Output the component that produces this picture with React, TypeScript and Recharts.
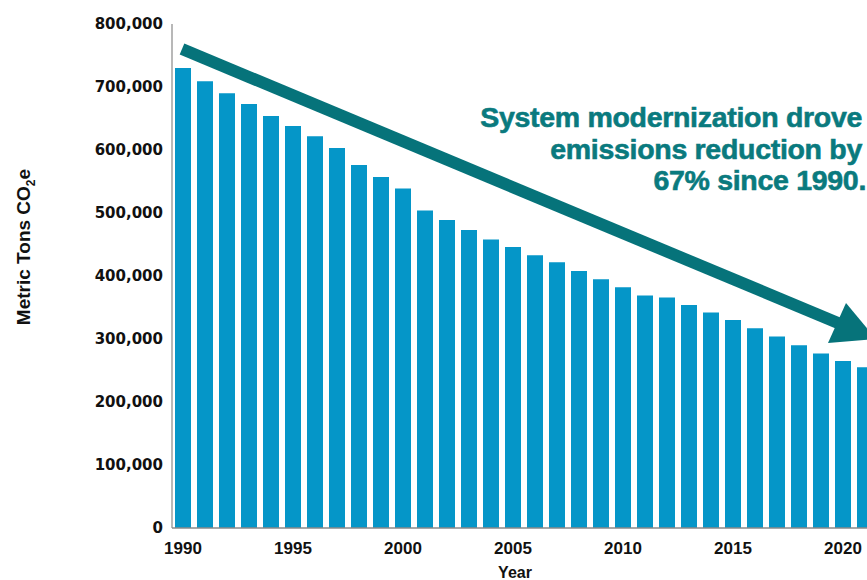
import React from 'react';
import { BarChart, Bar, XAxis, YAxis } from 'recharts';

const years = [
  1990, 1991, 1992, 1993, 1994, 1995, 1996, 1997, 1998, 1999,
  2000, 2001, 2002, 2003, 2004, 2005, 2006, 2007, 2008, 2009,
  2010, 2011, 2012, 2013, 2014, 2015, 2016, 2017, 2018, 2019,
  2020, 2021,
];
const emissions = [
  730000, 709000, 690000, 673000, 654000, 638000, 622000, 603000, 576000, 557000,
  539000, 504000, 489000, 473000, 458000, 446000, 433000, 422000, 408000, 395000,
  382000, 369000, 366000, 354000, 342000, 330000, 317000, 304000, 290000, 277000,
  265000, 255000,
];
const yTicks = [0, 100000, 200000, 300000, 400000, 500000, 600000, 700000, 800000];
const xTicks = [1990, 1995, 2000, 2005, 2010, 2015, 2020];
const titleLines = ['System modernization drove', 'emissions reduction by', '67% since 1990.'];

const data = years.map((y, i) => ({ year: y, value: emissions[i] }));

const TEAL_TEXT = '#0a7a7e';
const TEAL_ARROW = '#06737a';
const BAR = '#0596c8';

export default function App() {
  return (
    <div
      style={{
        position: 'fixed',
        left: 0,
        top: 0,
        width: 867,
        height: 580,
        overflow: 'hidden',
        background: '#fff',
      }}
    >
      <BarChart
        width={900}
        height={580}
        data={data}
        margin={{ top: 24, right: 24, left: 0, bottom: 22 }}
        barSize={16}
      >
        <YAxis
          width={172}
          domain={[0, 800000]}
          ticks={yTicks}
          interval={0}
          tickLine={false}
          tickSize={6}
          tickMargin={3}
          axisLine={{ stroke: '#a0a0a0', strokeWidth: 1.5 }}
          tickFormatter={(v: number) => v.toLocaleString('en-US')}
          tick={{ fill: '#111', fontSize: 15, fontWeight: 700, fontFamily: 'DejaVu Sans' }}
        />
        <XAxis
          dataKey="year"
          type="category"
          height={30}
          ticks={xTicks}
          interval={0}
          tickLine={false}
          tickSize={6}
          tickMargin={8}
          axisLine={{ stroke: '#8a8a8a', strokeWidth: 1.5 }}
          tick={{ fill: '#111', fontSize: 17, fontWeight: 700, fontFamily: 'Liberation Sans' }}
        />
        <Bar dataKey="value" fill={BAR} isAnimationActive={false} />
      </BarChart>
      <svg
        width={867}
        height={580}
        style={{ position: 'absolute', left: 0, top: 0, pointerEvents: 'none' }}
      >
        <line x1={182} y1={49} x2={838} y2={323} stroke={TEAL_ARROW} strokeWidth={12} />
        <polygon points="846,303 828,343 876,339" fill={TEAL_ARROW} />
        <g
          fontFamily="Liberation Sans"
          fontWeight={700}
          fontSize={28.5}
          letterSpacing={-0.3}
          fill={TEAL_TEXT}
          stroke={TEAL_TEXT}
          strokeWidth={0.6}
          textAnchor="end"
        >
          <text x={862} y={127}>{titleLines[0]}</text>
          <text x={862} y={159}>{titleLines[1]}</text>
          <text x={866} y={190}>{titleLines[2]}</text>
        </g>
        <text
          x={515}
          y={578}
          textAnchor="middle"
          fontFamily="Liberation Sans"
          fontWeight={700}
          fontSize={16}
          fill="#111"
        >
          Year
        </text>
        <text
          transform="translate(30, 247) rotate(-90)"
          textAnchor="middle"
          fontFamily="Liberation Sans"
          fontWeight={700}
          fontSize={19}
          fill="#111"
        >
          Metric Tons CO
          <tspan fontSize={12} dy={5}>2</tspan>
          <tspan dy={-5}>e</tspan>
        </text>
      </svg>
    </div>
  );
}
